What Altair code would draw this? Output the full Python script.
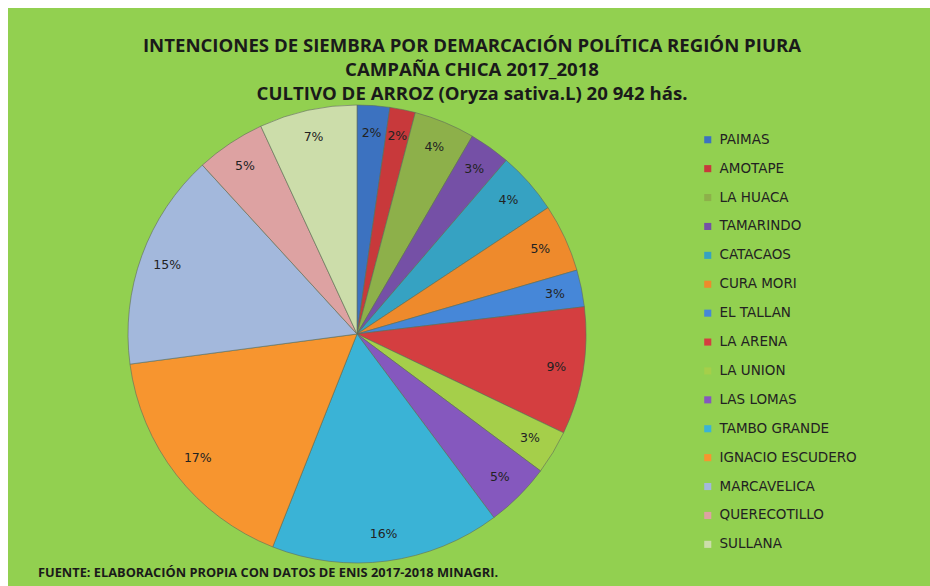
import altair as alt
import pandas as pd

districts = ["PAIMAS", "AMOTAPE", "LA HUACA", " TAMARINDO", "CATACAOS", "CURA MORI",
             "EL TALLAN", "LA ARENA", "LA UNION", "LAS LOMAS", "TAMBO GRANDE",
             "IGNACIO ESCUDERO", "MARCAVELICA", "QUERECOTILLO", "SULLANA"]
shares = [2.3, 1.8, 4.3, 2.9, 4.4, 4.8, 2.6, 9.0, 3.1, 4.6, 16.2, 16.9, 15.3, 4.9, 6.9]
colors = ["#3C72C0", "#C8393B", "#8DB04A", "#7550A6", "#36A2C2", "#EE8A2C",
          "#4687D8", "#D43E40", "#A5CF4A", "#8558BE", "#3AB3D6", "#F7952F",
          "#A3B8DC", "#DDA2A2", "#CCDDAA"]
title_lines = ["INTENCIONES DE SIEMBRA POR DEMARCACIÓN POLÍTICA REGIÓN PIURA",
               "CAMPAÑA CHICA 2017_2018",
               "CULTIVO DE ARROZ (Oryza sativa.L) 20 942 hás."]
source_note = "FUENTE: ELABORACIÓN PROPIA CON DATOS DE ENIS 2017-2018 MINAGRI."

df = pd.DataFrame({"district": districts, "share": shares, "idx": list(range(len(districts)))})
title_df = pd.DataFrame({"line": title_lines, "row": list(range(len(title_lines)))})

CX, CY, R = 349, 326, 229

base = alt.Chart(df).transform_joinaggregate(
    total="sum(share)"
).transform_calculate(
    pct="round(datum.share / datum.total * 100) + '%'"
).encode(
    theta=alt.Theta("share:Q", stack=True),
    order=alt.Order("idx:Q"),
    x=alt.value(CX),
    y=alt.value(CY),
)

arcs = base.mark_arc(outerRadius=R, stroke="#5f6b5a", strokeWidth=0.6).encode(
    color=alt.Color(
        "district:N",
        sort=districts,
        scale=alt.Scale(domain=districts, range=colors),
        legend=alt.Legend(
            orient="none", legendX=693, legendY=125, title=None,
            symbolType="square", symbolSize=50, symbolStrokeWidth=0,
            labelFont="DejaVu Sans", labelFontSize=13.5, labelColor="#222222",
            rowPadding=13.9, labelOffset=5,
        ),
    )
)

labels = base.mark_text(radius=202, font="DejaVu Sans", fontSize=12.5, color="#222222").encode(
    text="pct:N"
)

title = alt.Chart(title_df).mark_text(
    font="Open Sans", fontWeight="bold", fontSize=18.6,
    align="center", baseline="middle", color="#1a1a1a"
).encode(
    text="line:N",
    x=alt.value(464),
    y=alt.Y("row:Q", scale=alt.Scale(domain=[0, 2], range=[38, 86]), axis=None),
)

footer = alt.Chart(pd.DataFrame({"t": [source_note]})).mark_text(
    font="Open Sans", fontWeight="bold", fontSize=12.8, align="left",
    baseline="middle", color="#1a1a1a"
).encode(text="t:N", x=alt.value(30), y=alt.value(565))

chart = alt.layer(arcs, labels, title, footer).properties(
    width=922, height=578, autosize=alt.AutoSizeParams(type="none"),
    padding={"left": 8, "top": 8, "right": 0, "bottom": 0}, background="white"
).configure_view(stroke=None, fill="#92D050")

chart.save("out.html", embed_options={"renderer": "svg", "actions": False})
